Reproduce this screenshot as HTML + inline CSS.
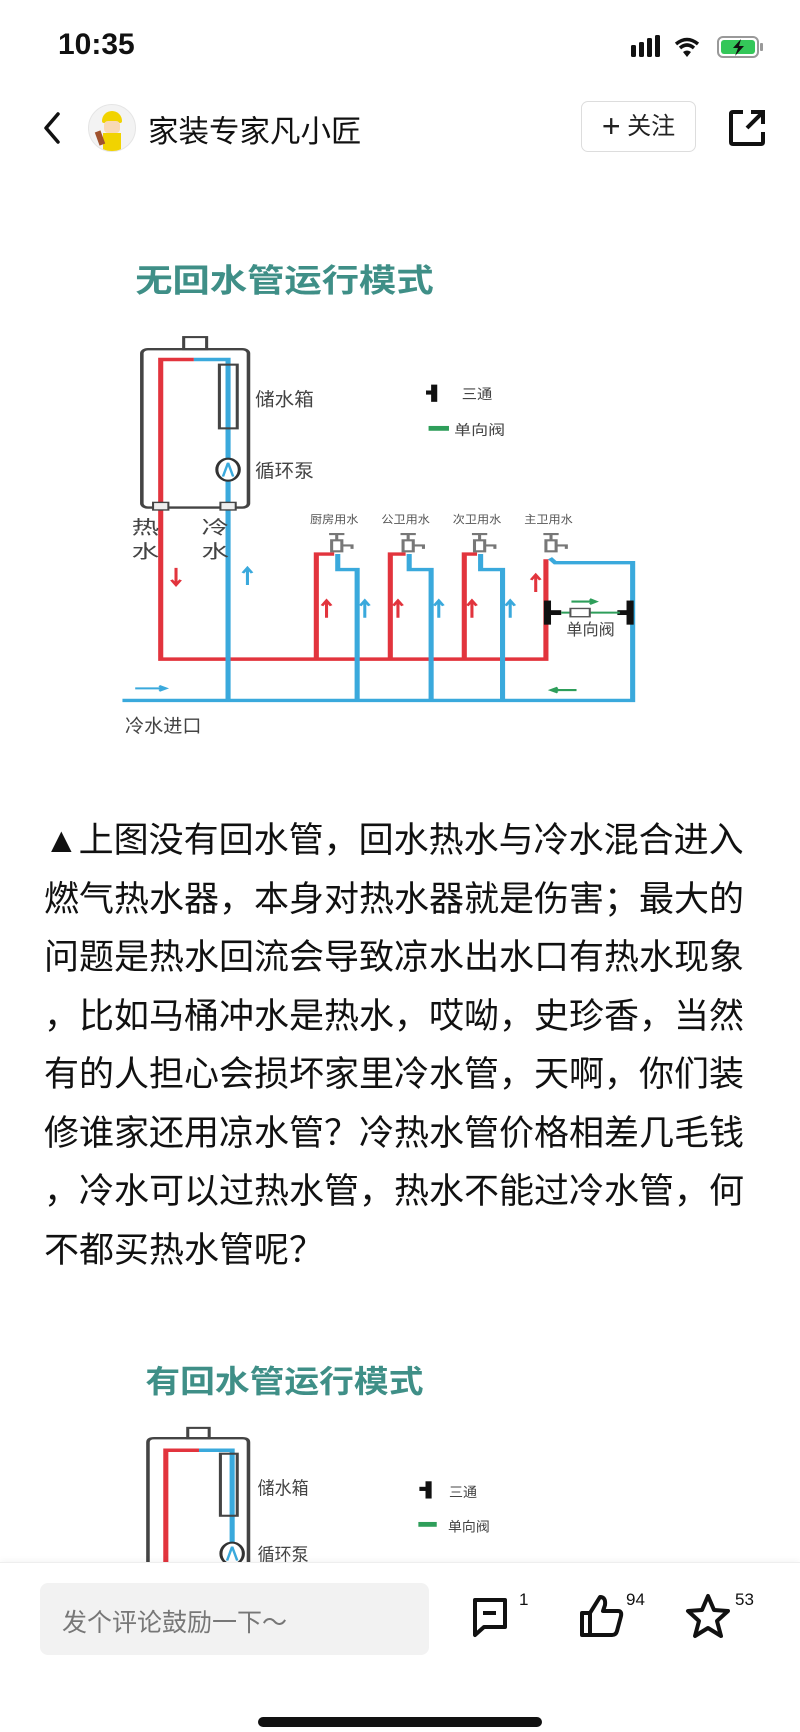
<!DOCTYPE html>
<html><head><meta charset="utf-8">
<style>
html,body{margin:0;padding:0;}
body{width:800px;height:1731px;position:relative;background:#fff;overflow:hidden;font-family:"Liberation Sans","Noto Sans CJK SC",sans-serif;color:#111;}
.abs{position:absolute;}
.para{position:absolute;left:44px;top:812px;font-size:35px;line-height:58.5px;color:#111;white-space:nowrap;font-family:"Liberation Sans","Noto Sans CJK SC",sans-serif;}
</style></head><body>
<!-- status bar -->
<div class="abs" style="left:58px;top:28px;font-size:30px;font-weight:bold;">10:35</div>
<svg class="abs" style="left:628px;top:34px" width="140" height="26" viewBox="0 0 140 26">
 <g fill="#111"><rect x="3" y="11" width="5" height="12" rx="1.5"/><rect x="11" y="8" width="5" height="15" rx="1.5"/><rect x="19" y="4" width="5" height="19" rx="1.5"/><rect x="27" y="1" width="5" height="22" rx="1.5"/></g>
 <path d="M48 10 Q59 1 70 10" stroke="#111" stroke-width="3.5" fill="none"/><path d="M52 14 Q59 8 66 14" stroke="#111" stroke-width="3.5" fill="none"/><path d="M55 18 L59 23 L63 18 Q59 15 55 18Z" fill="#111"/>
 <rect x="90" y="3" width="40" height="20" rx="5" fill="none" stroke="#999" stroke-width="2"/><rect x="93" y="6" width="34" height="14" rx="3" fill="#34c759"/><rect x="132" y="9" width="3" height="8" rx="1" fill="#999"/>
 <path d="M113 5 L105 14 L110 14 L107 22 L116 12 L111 12Z" fill="#111"/>
</svg>
<!-- nav -->
<svg class="abs" style="left:40px;top:110px" width="24" height="36"><path d="M18 4 L6 18 L18 32" stroke="#111" stroke-width="3.5" fill="none" stroke-linecap="round" stroke-linejoin="round"/></svg>
<div class="abs" style="left:88px;top:104px;width:46px;height:46px;border-radius:50%;background:#f3f3f3;border:1px solid #e5e5e5;overflow:hidden;">
 <div class="abs" style="left:13px;top:6px;width:20px;height:12px;background:#f1d300;border-radius:10px 10px 2px 2px;"></div>
 <div class="abs" style="left:15px;top:16px;width:16px;height:12px;background:#f8d9b5;border-radius:4px;"></div>
 <div class="abs" style="left:14px;top:28px;width:18px;height:18px;background:#f1d300;"></div>
 <div class="abs" style="left:8px;top:26px;width:6px;height:14px;background:#a0522d;transform:rotate(-20deg);"></div>
</div>
<div class="abs" style="left:148px;top:107px;font-size:30.5px;color:#111;">家装专家凡小匠</div>
<div class="abs" style="left:581px;top:101px;width:115px;height:51px;border:1.5px solid #ddd;border-radius:7px;box-sizing:border-box;font-size:24px;line-height:48px;text-align:center;color:#222;"><span style="font-size:32px;vertical-align:-3px;">+</span> 关注</div>
<svg class="abs" style="left:727px;top:108px" width="40" height="40" viewBox="0 0 40 40"><path d="M16 4 H6 Q4 4 4 6 V34 Q4 36 6 36 H34 Q36 36 36 34 V24" stroke="#111" stroke-width="4" fill="none"/><path d="M20 20 L35 5 M24 4 H36 V16" stroke="#111" stroke-width="4" fill="none"/></svg>

<!-- diagram 1 -->
<svg class="abs" style="left:0;top:220px" width="800" height="540" viewBox="0 0 1568 1568" preserveAspectRatio="none" font-family="Liberation Sans, Noto Sans CJK SC, sans-serif">
 <text x="265" y="208" font-size="92" font-weight="bold" fill="#3f8f87" textLength="585" lengthAdjust="spacingAndGlyphs">无回水管运行模式</text>
 <rect x="360" y="340" width="45" height="35" fill="#fff" stroke="#444" stroke-width="6"/>
 <rect x="278" y="375" width="209" height="460" rx="12" fill="none" stroke="#444" stroke-width="7"/>
 <g fill="none" stroke-width="10" stroke-linejoin="miter">
  <polyline points="380,405 315,405 315,1275 1070,1275 1070,985" stroke="#e2343d"/>
  <polyline points="620,1275 620,970 655,970" stroke="#e2343d"/>
  <polyline points="765,1275 765,970 795,970" stroke="#e2343d"/>
  <polyline points="910,1275 910,970 935,970" stroke="#e2343d"/>
  <polyline points="380,405 447,405 447,1395" stroke="#3aa9dc"/>
  <polyline points="240,1395 1240,1395 1240,995 1088,995 1078,982" stroke="#3aa9dc"/>
  <polyline points="662,970 662,1015 700,1015 700,1395" stroke="#3aa9dc"/>
  <polyline points="802,970 802,1015 845,1015 845,1395" stroke="#3aa9dc"/>
  <polyline points="942,970 942,1015 985,1015 985,1395" stroke="#3aa9dc"/>
 </g>
 <rect x="430" y="420" width="35" height="185" fill="none" stroke="#444" stroke-width="6"/>
 <ellipse cx="447" cy="725" rx="22" ry="32" fill="#fff" stroke="#333" stroke-width="6"/>
 <path d="M437 745 L447 705 L457 745" fill="none" stroke="#3aa9dc" stroke-width="5"/>
 <rect x="300" y="820" width="30" height="22" fill="#eee" stroke="#444" stroke-width="4"/>
 <rect x="432" y="820" width="30" height="22" fill="#eee" stroke="#444" stroke-width="4"/>
 <g font-size="54" fill="#444">
  <text x="500" y="540" textLength="115" lengthAdjust="spacingAndGlyphs">储水箱</text>
  <text x="500" y="748" textLength="115" lengthAdjust="spacingAndGlyphs">循环泵</text>
  <text x="258" y="912">热</text><text x="258" y="982">水</text>
  <text x="395" y="912">冷</text><text x="395" y="982">水</text>
  <text x="245" y="1488" textLength="150" lengthAdjust="spacingAndGlyphs">冷水进口</text>
  <text x="1110" y="1205" font-size="46" textLength="95" lengthAdjust="spacingAndGlyphs">单向阀</text>
  <text x="905" y="520" font-size="42" textLength="60" lengthAdjust="spacingAndGlyphs">三通</text>
  <text x="890" y="625" font-size="42" textLength="100" lengthAdjust="spacingAndGlyphs">单向阀</text>
 </g>
 <g font-size="32" fill="#555" text-anchor="middle">
  <text x="655" y="880" textLength="95" lengthAdjust="spacingAndGlyphs">厨房用水</text>
  <text x="795" y="880" textLength="95" lengthAdjust="spacingAndGlyphs">公卫用水</text>
  <text x="935" y="880" textLength="95" lengthAdjust="spacingAndGlyphs">次卫用水</text>
  <text x="1075" y="880" textLength="95" lengthAdjust="spacingAndGlyphs">主卫用水</text>
 </g>
 <g fill="none" stroke="#777" stroke-width="6">
  <g id="fc"><path d="M645 912 H675 M660 912 V930 M650 930 H670 V962 H650 Z M670 945 H690 V955"/></g>
  <use href="#fc" x="140"/><use href="#fc" x="280"/><use href="#fc" x="420"/>
 </g>
 <g stroke-width="6" fill="none">
  <path d="M345 1010 V1060 M336 1045 L345 1060 L354 1045" stroke="#e2343d"/>
  <path d="M640 1155 V1105 M631 1120 L640 1105 L649 1120" stroke="#e2343d"/>
  <path d="M780 1155 V1105 M771 1120 L780 1105 L789 1120" stroke="#e2343d"/>
  <path d="M925 1155 V1105 M916 1120 L925 1105 L934 1120" stroke="#e2343d"/>
  <path d="M1050 1080 V1030 M1041 1045 L1050 1030 L1059 1045" stroke="#e2343d"/>
  <path d="M485 1060 V1010 M476 1025 L485 1010 L494 1025" stroke="#3aa9dc"/>
  <path d="M715 1155 V1105 M706 1120 L715 1105 L724 1120" stroke="#3aa9dc"/>
  <path d="M860 1155 V1105 M851 1120 L860 1105 L869 1120" stroke="#3aa9dc"/>
  <path d="M1000 1155 V1105 M991 1120 L1000 1105 L1009 1120" stroke="#3aa9dc"/>
  <path d="M265 1360 H325 M312 1353 L325 1360 L312 1367" stroke="#3aa9dc"/>
  <path d="M1080 1365 H1130 M1093 1358 L1080 1365 L1093 1372" stroke="#2e9e5a"/>
  <path d="M1120 1108 H1168 M1156 1101 L1168 1108 L1156 1115" stroke="#2e9e5a"/>
 </g>
 <g fill="#111">
  <rect x="1066" y="1105" width="14" height="70"/><rect x="1075" y="1133" width="25" height="14"/>
  <rect x="1228" y="1105" width="14" height="70"/><rect x="1210" y="1133" width="25" height="14"/>
  <rect x="845" y="478" width="12" height="50"/><rect x="835" y="495" width="15" height="12"/>
 </g>
 <line x1="1100" y1="1140" x2="1215" y2="1140" stroke="#2e9e5a" stroke-width="6"/>
 <rect x="1118" y="1128" width="38" height="24" fill="#fff" stroke="#555" stroke-width="4"/>
 <rect x="840" y="598" width="40" height="14" fill="#2e9e5a"/>
</svg>

<div class="para">▲上图没有回水管，回水热水与冷水混合进入<br>燃气热水器，本身对热水器就是伤害；最大的<br>问题是热水回流会导致凉水出水口有热水现象<br>，比如马桶冲水是热水，哎呦，史珍香，当然<br>有的人担心会损坏家里冷水管，天啊，你们装<br>修谁家还用凉水管？冷热水管价格相差几毛钱<br>，冷水可以过热水管，热水不能过冷水管，何<br>不都买热水管呢？</div>

<!-- diagram 2 -->
<svg class="abs" style="left:0;top:1340px" width="800" height="224" viewBox="0 0 1568 650" preserveAspectRatio="none" font-family="Liberation Sans, Noto Sans CJK SC, sans-serif">
 <text x="285" y="152" font-size="90" font-weight="bold" fill="#3f8f87" textLength="545" lengthAdjust="spacingAndGlyphs">有回水管运行模式</text>
 <rect x="368" y="255" width="42" height="30" fill="#fff" stroke="#444" stroke-width="6"/>
 <path d="M290 700 V297 Q290 285 302 285 H475 Q487 285 487 297 V700" fill="none" stroke="#444" stroke-width="7"/>
 <polyline points="390,320 325,320 325,700" fill="none" stroke="#e2343d" stroke-width="10"/>
 <polyline points="390,320 455,320 455,700" fill="none" stroke="#3aa9dc" stroke-width="10"/>
 <rect x="432" y="330" width="33" height="180" fill="none" stroke="#444" stroke-width="6"/>
 <ellipse cx="455" cy="620" rx="22" ry="32" fill="#fff" stroke="#333" stroke-width="6"/>
 <path d="M445 640 L455 600 L465 640" fill="none" stroke="#3aa9dc" stroke-width="5"/>
 <g font-size="52" fill="#444">
  <text x="505" y="448" textLength="100" lengthAdjust="spacingAndGlyphs">储水箱</text>
  <text x="505" y="642" textLength="100" lengthAdjust="spacingAndGlyphs">循环泵</text>
  <text x="880" y="455" font-size="40" textLength="55" lengthAdjust="spacingAndGlyphs">三通</text>
  <text x="878" y="555" font-size="40" textLength="82" lengthAdjust="spacingAndGlyphs">单向阀</text>
 </g>
 <rect x="834" y="410" width="12" height="50" fill="#111"/><rect x="822" y="426" width="15" height="12" fill="#111"/>
 <rect x="820" y="528" width="36" height="14" fill="#2e9e5a"/>
</svg>

<!-- bottom bar -->
<div class="abs" style="left:0;top:1562px;width:800px;height:169px;background:#fff;border-top:1px solid #eee;box-shadow:0 -2px 6px rgba(0,0,0,0.04);"></div>
<div class="abs" style="left:40px;top:1583px;width:389px;height:72px;background:#f2f2f2;border-radius:8px;"></div>
<div class="abs" style="left:62px;top:1603px;font-size:25px;color:#777;">发个评论鼓励一下～</div>
<svg class="abs" style="left:470px;top:1595px" width="40" height="44" viewBox="0 0 40 44"><path d="M5 5 H35 V32 H14 L5 40 Z" fill="none" stroke="#111" stroke-width="4" stroke-linejoin="round"/><line x1="13" y1="18" x2="26" y2="18" stroke="#111" stroke-width="4"/></svg>
<div class="abs" style="left:519px;top:1590px;font-size:17px;">1</div>
<svg class="abs" style="left:578px;top:1593px" width="48" height="46" viewBox="0 0 48 46"><path d="M4 20 H12 V42 H4 Z M12 20 L22 4 Q28 4 27 12 L25 18 H40 Q44 18 43 23 L39 38 Q38 42 34 42 H12" fill="none" stroke="#111" stroke-width="4" stroke-linejoin="round"/></svg>
<div class="abs" style="left:626px;top:1590px;font-size:17px;">94</div>
<svg class="abs" style="left:685px;top:1593px" width="46" height="46" viewBox="0 0 46 46"><path d="M23 3 L29 17 L43 18 L32 28 L36 43 L23 35 L10 43 L14 28 L3 18 L17 17 Z" fill="none" stroke="#111" stroke-width="4" stroke-linejoin="round"/></svg>
<div class="abs" style="left:735px;top:1590px;font-size:17px;">53</div>
<div class="abs" style="left:258px;top:1717px;width:284px;height:10px;background:#111;border-radius:5px;"></div>
</body></html>
